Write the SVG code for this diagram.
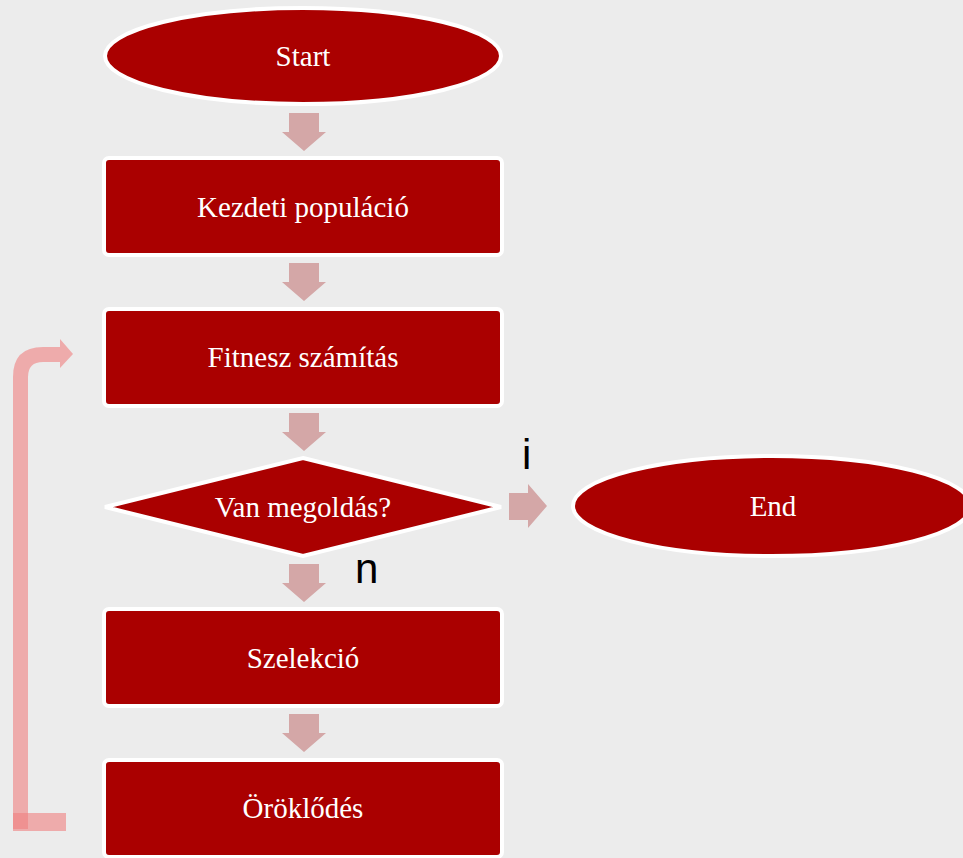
<svg xmlns="http://www.w3.org/2000/svg" width="963" height="858" viewBox="0 0 963 858">
<style>
.node{fill:#AA0000;stroke:#FFFFFF;stroke-width:4}
.lbl{font-family:"Liberation Serif","Times New Roman",serif;font-size:29px;fill:#FFFFFF;text-anchor:middle;dominant-baseline:central}
.flow{fill:#D4A7A7}
.loop{fill:#F08080;fill-opacity:0.6}
.yn{font-family:"Liberation Sans",Arial,sans-serif;font-size:42px;fill:#000000}
</style>
<defs>
<path id="down" d="M-15,0 H15 V19 H22 L0,38 L-22,19 H-15 Z"/>
</defs>
<rect width="963" height="858" fill="#ECECEC"/>
<g id="connectors">
<use href="#down" class="flow" x="304" y="113"/>
<use href="#down" class="flow" x="304" y="263"/>
<use href="#down" class="flow" x="304" y="413"/>
<use href="#down" class="flow" x="304" y="564"/>
<use href="#down" class="flow" x="304" y="714"/>
<path class="flow" d="M509,493 H528 V484 L547,506 L528,528 V520 H509 Z"/>
<path class="loop" d="M13,829 V377 Q13,347 43,347 H60 V339 L73,354 L60,368 V362 H43 Q28,362 28,377 V829 Z"/>
<rect class="loop" x="13" y="813" width="53" height="18"/>
<text class="yn" x="522" y="469">i</text>
<text class="yn" x="355" y="583">n</text>
</g>
<g id="start">
<ellipse class="node" cx="303" cy="56" rx="198" ry="48"/>
<text class="lbl" x="303" y="56">Start</text>
</g>
<g id="kezdeti">
<rect class="node" x="104" y="158" width="398" height="97" rx="5"/>
<text class="lbl" x="303" y="207">Kezdeti populáció</text>
</g>
<g id="fitnesz">
<rect class="node" x="104" y="309" width="398" height="97" rx="5"/>
<text class="lbl" x="303" y="357">Fitnesz számítás</text>
</g>
<g id="decision">
<polygon class="node" points="303,458 501,507 303,556 105,507"/>
<text class="lbl" x="303" y="507">Van megoldás?</text>
</g>
<g id="end">
<ellipse class="node" cx="772" cy="506" rx="199" ry="50"/>
<text class="lbl" x="773" y="506">End</text>
</g>
<g id="szelekcio">
<rect class="node" x="104" y="609" width="398" height="97" rx="5"/>
<text class="lbl" x="303" y="658">Szelekció</text>
</g>
<g id="oroklodes">
<rect class="node" x="104" y="760" width="398" height="97" rx="5"/>
<text class="lbl" x="303" y="808">Öröklődés</text>
</g>
</svg>
